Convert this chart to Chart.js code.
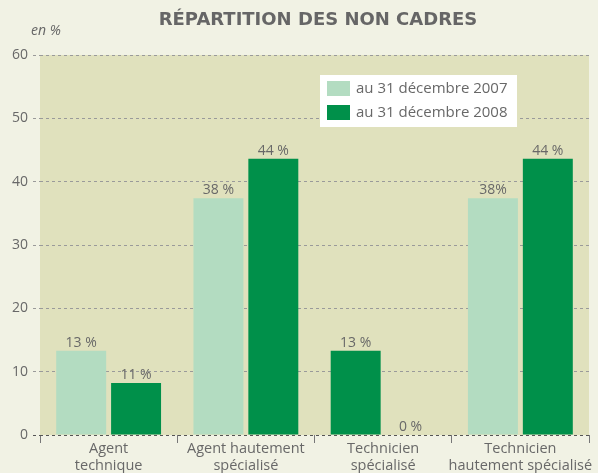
<!DOCTYPE html>
<html>
<head>
<meta charset="utf-8">
<script src="https://cdn.jsdelivr.net/npm/chart.js@4"></script>
<style>
  html, body { margin: 0; padding: 0; background: #f1f2e4; }
  #wrap { width: 598px; height: 473px; position: relative; }
</style>
</head>
<body>
<div id="wrap"><canvas id="chart" width="598" height="473"></canvas></div>
<script>
// ---------- DATA ----------
const categories = [
  ["Agent", "technique"],
  ["Agent hautement", "spécialisé"],
  ["Technicien", "spécialisé"],
  ["Technicien", "hautement spécialisé"],
];
const seriesNames = ["au 31 décembre 2007", "au 31 décembre 2008"];
const values2007 = [13.3, 37.4, 13.3, 37.4];
const values2008 = [8.2, 43.6, 0, 43.6];
const labels2007 = ["13 %", "38 %", "13 %", "38%"];
const labels2008 = ["11 %", "44 %", "0 %", "44 %"];
const yTicks = [0, 10, 20, 30, 40, 50, 60];

// ---------- COLORS ----------
const LIGHT = "#b3dcc1";
const DARK = "#00904a";
const PLOT_BG = "#e0e1bd";
const TEXT = "#686868";
const FONT = "'Open Sans'";

// the technicien spécialisé 2007 bar is dark in the source
const colors2007 = [LIGHT, LIGHT, DARK, LIGHT];

const decorPlugin = {
  id: "decor",
  beforeDraw(chart) {
    const { ctx, chartArea: a } = chart;
    ctx.save();
    ctx.fillStyle = PLOT_BG;
    ctx.fillRect(a.left, a.top, a.right - a.left, a.bottom - a.top);
    ctx.restore();
  },
  afterDatasetsDraw(chart) {
    const { ctx } = chart;
    const texts = [labels2007, labels2008];
    ctx.save();
    ctx.font = "14px " + FONT;
    ctx.fillStyle = TEXT;
    ctx.textAlign = "center";
    ctx.textBaseline = "alphabetic";
    chart.data.datasets.forEach((ds, i) => {
      chart.getDatasetMeta(i).data.forEach((bar, j) => {
        ctx.fillText(texts[i][j], bar.x, bar.y - 4);
      });
    });
    ctx.restore();
  },
  afterDraw(chart) {
    const { ctx } = chart;
    ctx.save();
    // title
    ctx.fillStyle = "#666";
    ctx.font = "bold 18px 'DejaVu Sans'";
    ctx.textAlign = "center";
    ctx.textBaseline = "middle";
    ctx.fillText("RÉPARTITION DES NON CADRES", 318, 20);
    // unit
    ctx.font = "italic 14px " + FONT;
    ctx.textAlign = "left";
    ctx.fillText("en %", 31, 31);
    // legend box
    ctx.fillStyle = "#ffffff";
    ctx.fillRect(320, 75, 197, 52);
    const sw = [LIGHT, DARK];
    ctx.font = "15px " + FONT;
    seriesNames.forEach((name, i) => {
      const y = 81 + i * 24;
      ctx.fillStyle = sw[i];
      ctx.fillRect(327, y, 23, 15);
      ctx.fillStyle = TEXT;
      ctx.fillText(name, 356, y + 8);
    });
    ctx.restore();
  },
};

new Chart(document.getElementById("chart"), {
  type: "bar",
  data: {
    labels: categories,
    datasets: [
      { label: seriesNames[0], data: values2007, backgroundColor: colors2007 },
      { label: seriesNames[1], data: values2008, backgroundColor: DARK },
    ],
  },
  options: {
    responsive: false,
    animation: false,
    categoryPercentage: 0.8,
    barPercentage: 0.91,
    layout: { padding: { top: 55, right: 9, left: 0, bottom: 0 } },
    plugins: {
      legend: { display: false },
      title: { display: false },
      tooltip: { enabled: false },
    },
    scales: {
      x: {
        afterFit: (s) => { s.height = 38; },
        grid: {
          drawOnChartArea: false,
          drawTicks: true,
          tickLength: 8,
          color: "#777",
        },
        border: { display: false },
        ticks: {
          color: TEXT,
          font: { family: FONT, size: 14.5, lineHeight: 1.15 },
          padding: -2,
          maxRotation: 0,
          autoSkip: false,
        },
      },
      y: {
        min: 0,
        max: 60,
        afterFit: (s) => { s.width = 40; },
        afterBuildTicks: (s) => { s.ticks = yTicks.map((v) => ({ value: v })); },
        grid: {
          color: (c) => (c.tick && c.tick.value === 0 ? "#555" : "#9a9a9a"),
          tickLength: 7,
          tickBorderDash: [3, 3],
        },
        border: { display: false, dash: [3, 3] },
        ticks: {
          color: TEXT,
          font: { family: FONT, size: 14 },
          padding: 5,
        },
      },
    },
  },
  plugins: [decorPlugin],
});
</script>
</body>
</html>
